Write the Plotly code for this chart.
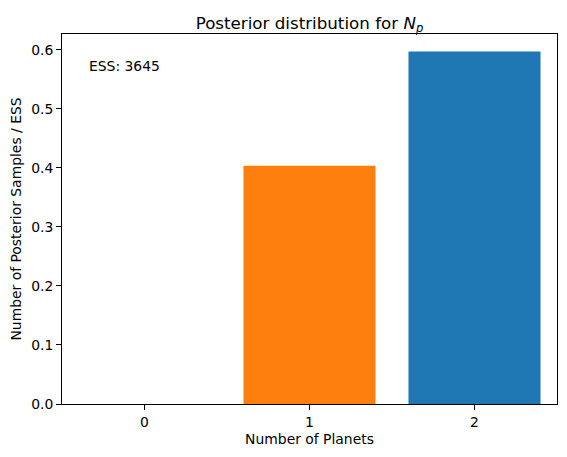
import plotly.graph_objects as go

# Data
planets = [0, 1, 2]
fractions = [0.0, 0.4033, 0.5967]
bar_colors = ["#1f77b4", "#ff7f0e", "#1f77b4"]
ess = 3645
tick_vals_y = [0.0, 0.1, 0.2, 0.3, 0.4, 0.5, 0.6]
tick_text_y = ["0.0", "0.1", "0.2", "0.3", "0.4", "0.5", "0.6"]

FONT = "DejaVu Sans"

fig = go.Figure()
fig.add_trace(go.Bar(
    x=planets, y=fractions, width=0.8,
    marker=dict(color=bar_colors, line=dict(width=0)),
    showlegend=False, hoverinfo="x+y",
))

axis_common = dict(
    showline=True, linecolor="black", linewidth=1, mirror=True,
    ticks="outside", ticklen=5, tickwidth=1, tickcolor="black",
    showgrid=False, zeroline=False,
    tickfont=dict(family=FONT, size=13.9, color="black"),
)

fig.update_layout(
    width=567, height=457,
    margin=dict(l=62, r=10, t=34, b=53),
    paper_bgcolor="white", plot_bgcolor="white",
    font=dict(family=FONT, color="black"),
    title=dict(
        text="Posterior distribution for <i>N</i><sub><i>p</i></sub>",
        x=0.5, xref="paper", xanchor="center",
        y=1 - 23 / 457, yref="container", yanchor="middle",
        font=dict(family=FONT, size=16.7, color="black"),
    ),
    xaxis=dict(
        range=[-0.5, 2.5], tickvals=planets, ticktext=[str(p) for p in planets],
        title=dict(text="Number of Planets", font=dict(family=FONT, size=13.9, color="black"), standoff=5),
        **axis_common,
    ),
    yaxis=dict(
        range=[0, 0.6265], tickvals=tick_vals_y, ticktext=tick_text_y,
        title=dict(text="Number of Posterior Samples / ESS", font=dict(family=FONT, size=13.9, color="black"), standoff=6),
        **axis_common,
    ),
    annotations=[dict(
        text=f"ESS: {ess}", xref="paper", yref="paper",
        x=0.05, y=0.913, xanchor="left", yanchor="middle", showarrow=False,
        font=dict(family=FONT, size=13.9, color="black"),
    )],
)

fig.write_html("out.html")
